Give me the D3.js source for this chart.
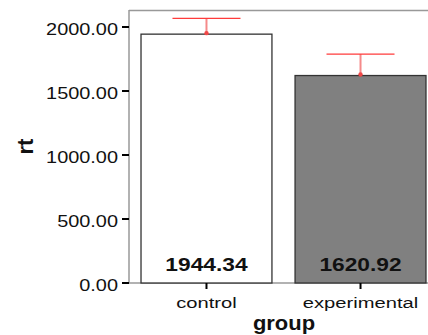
<!DOCTYPE html>
<html><head><meta charset="utf-8">
<script src="https://cdn.jsdelivr.net/npm/d3@7"></script>
<style>body{margin:0;background:#fff}svg{display:block}text{font-family:"Liberation Sans",Arial,sans-serif}</style>
</head><body>
<svg id="c" width="428" height="335"></svg>
<script>
const categories = ["control", "experimental"];
const means = [1944.34, 1620.92];
const upper = [2068, 1789];
const yTicks = [0, 500, 1000, 1500, 2000];
const fills = ["#ffffff", "#808080"];

const svg = d3.select("#c");
const x0 = 129, y0 = 283, yTop = 10;
const y = d3.scaleLinear().domain([0, 2133]).range([y0, yTop]);
const x = d3.scaleBand().domain(categories).range([x0, 438]).paddingInner(0.15).paddingOuter(0.078);

// stretch text horizontally like the reference
function stretch(sel, k) {
  sel.each(function () {
    const w = this.getComputedTextLength();
    d3.select(this).attr("textLength", w * k).attr("lengthAdjust", "spacingAndGlyphs");
  });
}

// frame
svg.append("line").attr("x1", x0).attr("x2", 428).attr("y1", yTop + 0.5).attr("y2", yTop + 0.5).attr("stroke", "#999").attr("stroke-width", 1.5);
svg.append("line").attr("x1", x0).attr("x2", 428).attr("y1", y0).attr("y2", y0).attr("stroke", "#999").attr("stroke-width", 1.5);
svg.append("line").attr("x1", x0).attr("x2", x0).attr("y1", yTop).attr("y2", y0).attr("stroke", "#999").attr("stroke-width", 1.5);

// bars
svg.selectAll("rect.bar").data(categories).enter().append("rect")
  .attr("x", d => x(d)).attr("width", x.bandwidth())
  .attr("y", (d, i) => y(means[i])).attr("height", (d, i) => y0 - y(means[i]))
  .attr("fill", (d, i) => fills[i]).attr("stroke", "#333").attr("stroke-width", 1.3);

// error bars and value labels
categories.forEach((c, i) => {
  const cx = x(c) + x.bandwidth() / 2;
  svg.append("line").attr("x1", cx).attr("x2", cx).attr("y1", y(upper[i])).attr("y2", y(means[i]))
    .attr("stroke", "#f58a8a").attr("stroke-width", 2);
  svg.append("line").attr("x1", cx - 34).attr("x2", cx + 34).attr("y1", y(upper[i])).attr("y2", y(upper[i]))
    .attr("stroke", "#ff3b3b").attr("stroke-width", 1.2);
  svg.append("circle").attr("cx", cx).attr("cy", y(means[i]) - 1).attr("r", 2.2).attr("fill", "#f04848");
  svg.append("text").attr("class", "val").attr("x", cx).attr("y", 271).attr("text-anchor", "middle")
    .attr("font-size", 17.5).attr("font-weight", "bold").attr("fill", "#111").text(means[i].toFixed(2));
});
stretch(svg.selectAll("text.val"), 1.3);

// y axis ticks
const ya = svg.append("g");
yTicks.forEach(t => {
  ya.append("line").attr("x1", 122).attr("x2", x0).attr("y1", y(t)).attr("y2", y(t)).attr("stroke", "#000").attr("stroke-width", 2);
  ya.append("text").attr("class", "yt").attr("x", 118).attr("y", y(t) + 2).attr("dy", "0.35em").attr("text-anchor", "end")
    .attr("font-size", 17).attr("fill", "#111").text(t.toFixed(2));
});
stretch(ya.selectAll("text.yt"), 1.17);

// x axis ticks
categories.forEach(c => {
  const cx = x(c) + x.bandwidth() / 2;
  svg.append("line").attr("x1", cx).attr("x2", cx).attr("y1", y0).attr("y2", y0 + 6).attr("stroke", "#000").attr("stroke-width", 2);
  svg.append("text").attr("class", "xt").attr("x", cx).attr("y", 307.5).attr("text-anchor", "middle").attr("font-size", 15.5).attr("fill", "#111").text(c);
});
stretch(svg.selectAll("text.xt"), 1.3);

svg.append("text").attr("class", "xl").attr("x", 284).attr("y", 330).attr("text-anchor", "middle").attr("font-size", 20.5).attr("font-weight", "bold").attr("fill", "#111").text("group");
stretch(svg.selectAll("text.xl"), 1.07);
svg.append("text").attr("transform", "translate(33,146.5) rotate(-90)").attr("text-anchor", "middle").attr("font-size", 22).attr("font-weight", "bold").attr("fill", "#111").text("rt");
</script>
</body></html>
